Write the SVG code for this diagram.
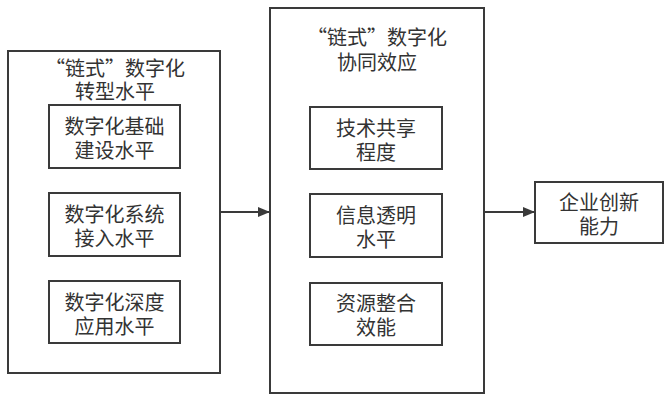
<svg xmlns="http://www.w3.org/2000/svg" width="665" height="395" viewBox="0 0 665 395">
<style>
.box{fill:#fff;stroke:#3a3a3a;stroke-width:2}
.t{font-family:"Noto Sans CJK SC","Liberation Sans",sans-serif;font-size:20px;fill:#333;text-anchor:middle}
.c{stroke:#3a3a3a;stroke-width:2;fill:none}
</style>
<defs>
<marker id="ah" markerWidth="12" markerHeight="10" refX="12" refY="5" orient="auto" markerUnits="userSpaceOnUse">
<path d="M0,0 L12,5 L0,10 Z" fill="#3a3a3a"/>
</marker>
</defs>
<rect width="665" height="395" fill="#fff"/>
<g id="left">
<rect class="box" x="8" y="51" width="212" height="322"/>
<text class="t" x="115" y="76">“链式”数字化</text>
<text class="t" x="115" y="99">转型水平</text>
</g>
<g id="l1">
<rect class="box" x="49" y="105" width="131" height="63"/>
<text class="t" x="114.5" y="134">数字化基础</text>
<text class="t" x="114.5" y="158">建设水平</text>
</g>
<g id="l2">
<rect class="box" x="49" y="193" width="131" height="63"/>
<text class="t" x="114.5" y="222">数字化系统</text>
<text class="t" x="114.5" y="246">接入水平</text>
</g>
<g id="l3">
<rect class="box" x="49" y="281" width="131" height="62"/>
<text class="t" x="114.5" y="310">数字化深度</text>
<text class="t" x="114.5" y="334">应用水平</text>
</g>
<g id="mid">
<rect class="box" x="270" y="8" width="214" height="385"/>
<text class="t" x="377" y="45">“链式”数字化</text>
<text class="t" x="377" y="70">协同效应</text>
</g>
<g id="m1">
<rect class="box" x="310" y="107" width="132" height="62"/>
<text class="t" x="376" y="136">技术共享</text>
<text class="t" x="376" y="160">程度</text>
</g>
<g id="m2">
<rect class="box" x="310" y="194" width="132" height="63"/>
<text class="t" x="376" y="223">信息透明</text>
<text class="t" x="376" y="247">水平</text>
</g>
<g id="m3">
<rect class="box" x="310" y="283" width="132" height="62"/>
<text class="t" x="376" y="311">资源整合</text>
<text class="t" x="376" y="335">效能</text>
</g>
<g id="right">
<rect class="box" x="535" y="182" width="128" height="61"/>
<text class="t" x="599" y="210">企业创新</text>
<text class="t" x="599" y="234">能力</text>
</g>
<g id="connectors">
<line class="c" x1="220" y1="212" x2="270" y2="212" marker-end="url(#ah)"/>
<line class="c" x1="484" y1="212" x2="535" y2="212" marker-end="url(#ah)"/>
</g>
</svg>
